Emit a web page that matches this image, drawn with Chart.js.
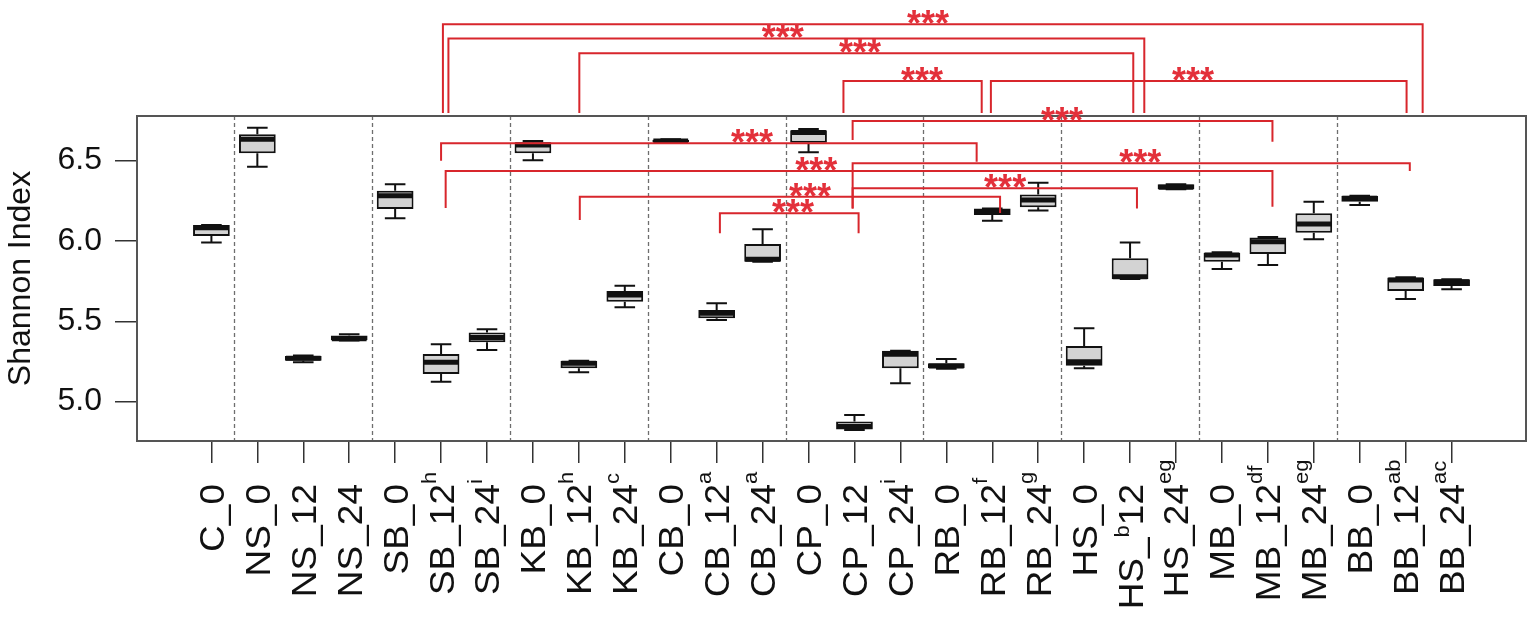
<!DOCTYPE html>
<html>
<head>
<meta charset="utf-8">
<title>Shannon Index</title>
<script src="https://cdn.jsdelivr.net/npm/chart.js@4.4.1/dist/chart.umd.min.js"></script>
<style>
  html, body { margin: 0; padding: 0; background: #fff; }
  canvas { display: block; }
</style>
</head>
<body>
<canvas id="myChart" width="1535" height="623"></canvas>
<script>
// categories (samples) and the letter marks written after them
var labels = ["C_0", "NS_0", "NS_12", "NS_24", "SB_0", "SB_12", "SB_24", "KB_0", "KB_12", "KB_24",
    "CB_0", "CB_12", "CB_24", "CP_0", "CP_12", "CP_24", "RB_0", "RB_12", "RB_24",
    "HS_0", "HS_12", "HS_24", "MB_0", "MB_12", "MB_24", "BB_0", "BB_12", "BB_24"];
var sups = ["", "", "", "", "", "h", "i", "", "h", "c",
    "", "a", "a", "", "", "i", "", "f", "g",
    "", "b", "eg", "", "df", "eg", "", "ab", "ac"];
// where the letter sits inside the label (-1 = at the end)
var supAt = [-1, -1, -1, -1, -1, -1, -1, -1, -1, -1,
    -1, -1, -1, -1, -1, -1, -1, -1, -1,
    -1, 3, -1, -1, -1, -1, -1, -1, -1];

// box plot values (Shannon index)
var whiskerLow  = [5.990, 6.462, 5.245, 5.380, 6.141, 5.124, 5.322, 6.502, 5.183, 5.587,
    6.610, 5.508, 5.871, 6.552, 4.824, 5.115, 5.205, 6.126, 6.189,
    5.208, 5.764, 6.322, 5.826, 5.851, 6.011, 6.224, 5.639, 5.700];
var boxLow      = [6.031, 6.546, 5.255, 5.382, 6.199, 5.172, 5.370, 6.546, 5.208, 5.622,
    6.614, 5.519, 5.871, 6.612, 4.826, 5.208, 5.208, 6.162, 6.210,
    5.224, 5.764, 6.322, 5.871, 5.919, 6.052, 6.245, 5.689, 5.720];
var medians     = [6.083, 6.633, 5.270, 5.392, 6.282, 5.245, 5.400, 6.597, 5.239, 5.664,
    6.623, 5.550, 5.886, 6.676, 4.845, 5.295, 5.222, 6.179, 6.255,
    5.249, 5.778, 6.335, 5.913, 5.996, 6.106, 6.266, 5.757, 5.747];
var boxHigh     = [6.100, 6.664, 5.284, 5.411, 6.313, 5.297, 5.430, 6.614, 5.253, 5.689,
    6.630, 5.571, 5.981, 6.690, 4.876, 5.317, 5.239, 6.203, 6.290,
    5.347, 5.892, 6.353, 5.927, 6.021, 6.172, 6.282, 5.772, 5.762];
var whiskerHigh = [6.100, 6.705, 5.287, 5.419, 6.353, 5.357, 5.450, 6.622, 5.255, 5.722,
    6.633, 5.612, 6.073, 6.697, 4.917, 5.317, 5.266, 6.203, 6.363,
    5.457, 5.990, 6.353, 5.930, 6.025, 6.245, 6.282, 5.775, 5.762];

var yTicks = [5.0, 5.5, 6.0, 6.5];
var groupBreaks = [0.5, 3.5, 6.5, 9.5, 12.5, 15.5, 18.5, 21.5, 24.5];

// significance brackets: ends (category index), bar level and leg ends (index value), star place
var bracketFrom  = [5.04, 5.16, 8.01, 13.76, 16.97, 13.96, 5.00, 13.96, 5.10, 13.96, 8.02, 11.07];
var bracketTo    = [26.37, 20.31, 20.07, 16.77, 26.02, 23.10, 16.66, 26.09, 23.10, 20.15, 17.17, 14.09];
var bracketLevel = [7.349, 7.261, 7.168, 6.996, 6.996, 6.747, 6.608, 6.484, 6.436, 6.328, 6.276, 6.172];
var legEndFrom   = [6.797, 6.797, 6.797, 6.797, 6.797, 6.628, 6.500, 6.203, 6.205, 6.203, 6.131, 6.048];
var legEndTo     = [6.797, 6.797, 6.797, 6.797, 6.797, 6.618, 6.493, 6.436, 6.213, 6.203, 6.174, 6.048];
var starAt       = [15.60, 12.44, 14.12, 15.47, 21.37, 18.52, 11.77, 20.22, 13.17, 17.28, 13.03, 12.66];

var fontFamily = '"Liberation Sans", Arial, Helvetica, sans-serif';
var red = "#d8262c";

var boxPlot = {
    id: "boxPlot",
    beforeDatasetsDraw: function (chart) {
        var ctx = chart.ctx, a = chart.chartArea, x = chart.scales.x;
        ctx.save();
        ctx.strokeStyle = "#6e6e6e";
        ctx.lineWidth = 1.3;
        ctx.setLineDash([4, 3]);
        groupBreaks.forEach(function (b) {
            var px = Math.round(x.getPixelForValue(b)) + 0.5;
            ctx.beginPath();
            ctx.moveTo(px, a.top);
            ctx.lineTo(px, a.bottom);
            ctx.stroke();
        });
        ctx.restore();
    },
    afterDatasetsDraw: function (chart) {
        var ctx = chart.ctx, a = chart.chartArea, y = chart.scales.y;
        var bars = chart.getDatasetMeta(0).data;
        ctx.save();
        ctx.strokeStyle = "#111";
        bars.forEach(function (bar, i) {
            var p = bar.getProps(["x", "width"], true);
            var half = p.width / 2, cap = p.width * 0.28;
            var yLo = y.getPixelForValue(whiskerLow[i]), yQ1 = y.getPixelForValue(boxLow[i]);
            var yQ3 = y.getPixelForValue(boxHigh[i]), yHi = y.getPixelForValue(whiskerHigh[i]);
            ctx.lineWidth = 2;
            ctx.beginPath();
            ctx.moveTo(p.x, yQ3); ctx.lineTo(p.x, yHi);
            ctx.moveTo(p.x - cap, yHi); ctx.lineTo(p.x + cap, yHi);
            ctx.moveTo(p.x, yQ1); ctx.lineTo(p.x, yLo);
            ctx.moveTo(p.x - cap, yLo); ctx.lineTo(p.x + cap, yLo);
            ctx.stroke();
            // median
            var yM = y.getPixelForValue(medians[i]);
            ctx.lineWidth = 5;
            ctx.beginPath();
            ctx.moveTo(p.x - half + 1, yM); ctx.lineTo(p.x + half - 1, yM);
            ctx.stroke();
        });
        // plot frame
        ctx.strokeStyle = "#555";
        ctx.lineWidth = 2;
        ctx.strokeRect(a.left, a.top, a.right - a.left, a.bottom - a.top);
        ctx.restore();
    },
    afterDraw: function (chart) {
        var ctx = chart.ctx, a = chart.chartArea, x = chart.scales.x, y = chart.scales.y;
        var mainSize = 37, supSize = 22, squeeze = 0.94;
        var capHalf = 0.716 * mainSize * squeeze / 2;
        var labelEnd = a.bottom + 43;

        // x labels, turned upright, with their letters
        ctx.save();
        ctx.fillStyle = "#111";
        ctx.textBaseline = "alphabetic";
        labels.forEach(function (lab, i) {
            var px = x.getPixelForValue(i);
            var at = supAt[i] < 0 ? lab.length : supAt[i];
            var head = lab.slice(0, at), tail = lab.slice(at);
            ctx.save();
            ctx.translate(px + capHalf, labelEnd);
            ctx.rotate(-Math.PI / 2);
            ctx.scale(1, squeeze);
            ctx.font = mainSize + "px " + fontFamily;
            var tailW = ctx.measureText(tail).width;
            ctx.font = supSize + "px " + fontFamily;
            var supW = ctx.measureText(sups[i]).width;
            if (tail.length) {
                ctx.textAlign = "right";
                ctx.font = mainSize + "px " + fontFamily;
                ctx.fillText(tail, 0, 0);
                ctx.fillText(head, -tailW - supW, 0);
                ctx.font = supSize + "px " + fontFamily;
                ctx.fillText(sups[i], -tailW, -14);
            } else {
                ctx.textAlign = "right";
                ctx.font = mainSize + "px " + fontFamily;
                ctx.fillText(head, 0, 0);
                if (sups[i]) {
                    ctx.textAlign = "left";
                    ctx.font = supSize + "px " + fontFamily;
                    ctx.fillText(sups[i], 0, -19);
                }
            }
            ctx.restore();
        });
        ctx.restore();

        // significance brackets
        ctx.save();
        ctx.strokeStyle = red;
        ctx.fillStyle = "#e3303a";
        ctx.lineWidth = 2;
        ctx.font = "bold 36px " + fontFamily;
        ctx.textAlign = "center";
        ctx.textBaseline = "alphabetic";
        bracketFrom.forEach(function (f, k) {
            var x1 = x.getPixelForValue(f), x2 = x.getPixelForValue(bracketTo[k]);
            var yl = y.getPixelForValue(bracketLevel[k]);
            ctx.beginPath();
            ctx.moveTo(x1, y.getPixelForValue(legEndFrom[k]));
            ctx.lineTo(x1, yl);
            ctx.lineTo(x2, yl);
            ctx.lineTo(x2, y.getPixelForValue(legEndTo[k]));
            ctx.stroke();
            ctx.fillText("***", x.getPixelForValue(starAt[k]), yl + 12);
        });
        ctx.restore();
    }
};

Chart.defaults.font.family = fontFamily;

var myChart = document.getElementById("myChart").getContext("2d");
var shannonChart = new Chart(myChart, {
    type: "bar",
    data: {
        datasets: [{
            label: "Shannon Index",
            data: labels.map(function (l, i) { return { x: i, y: [boxLow[i], boxHigh[i]] }; }),
            backgroundColor: "#d3d3d3",
            borderColor: "#111",
            borderWidth: 2,
            borderSkipped: false,
            barPercentage: 0.8,
            categoryPercentage: 1
        }]
    },
    options: {
        responsive: false,
        animation: false,
        layout: { padding: { left: 0, top: 116, right: 9, bottom: 160 } },
        plugins: { legend: { display: false }, tooltip: { enabled: false } },
        scales: {
            x: {
                type: "linear",
                min: -1.62,
                max: 28.62,
                offset: false,
                afterBuildTicks: function (s) { s.ticks = labels.map(function (l, i) { return { value: i }; }); },
                ticks: { display: false },
                grid: { offset: false, drawOnChartArea: false, tickLength: 22, color: "#333", lineWidth: 1.5 },
                border: { display: false }
            },
            y: {
                min: 4.755,
                max: 6.778,
                beginAtZero: false,
                afterBuildTicks: function (s) { s.ticks = yTicks.map(function (v) { return { value: v }; }); },
                afterFit: function (s) { s.width = 137; },
                ticks: {
                    callback: function (v) { return Number(v).toFixed(1); },
                    font: { size: 32 },
                    color: "#111",
                    padding: 13
                },
                grid: { drawOnChartArea: false, tickLength: 22, color: "#333", lineWidth: 1.5 },
                border: { display: false },
                title: {
                    display: true,
                    text: "Shannon Index",
                    color: "#111",
                    font: { size: 32, lineHeight: 1 },
                    padding: { top: 5, bottom: 5 }
                }
            }
        }
    },
    plugins: [boxPlot]
});
</script>
</body>
</html>
